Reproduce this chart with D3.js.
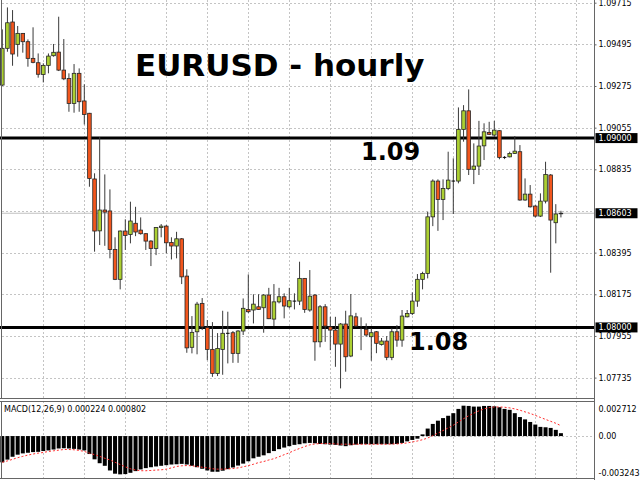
<!DOCTYPE html>
<html><head><meta charset="utf-8">
<script src="https://cdn.jsdelivr.net/npm/d3@7"></script>
<style>html,body{margin:0;padding:0;background:#fff;}svg{display:block;}</style>
</head><body><svg id="c" width="640" height="480"></svg>
<script>
// ---- data (EURUSD hourly, 110 bars) ----
const open=[
1.09280,1.09474,1.09613,1.09495,1.09553,1.09509,1.09421,1.09398,1.09336,1.09384,
1.09435,1.09454,1.09359,1.09315,1.09183,1.09342,1.09196,1.09131,1.08784,1.08510,
1.08620,1.08615,1.08412,1.08254,1.08509,1.08491,1.08550,1.08514,1.08495,1.08456,
1.08417,1.08528,1.08535,1.08449,1.08430,1.08468,1.08271,1.07895,1.07977,1.08127,
1.08000,1.07884,1.07757,1.07884,1.07969,1.07972,1.07863,1.07981,1.08095,1.08092,
1.08109,1.08104,1.08171,1.08044,1.08135,1.08162,1.08109,1.08139,1.08139,1.08259,
1.08092,1.08171,1.07924,1.08109,1.08003,1.07986,1.07912,1.08018,1.07849,1.08056,
1.08000,1.07990,1.07951,1.07977,1.07910,1.07928,1.07842,1.07977,1.07933,1.08056,
1.08074,1.08139,1.08254,1.08285,1.08584,1.08773,1.08676,1.08734,1.08773,1.08773,
1.09046,1.09144,1.08835,1.08852,1.08959,1.09030,1.09016,1.09039,1.08898,1.08901,
1.08919,1.08928,1.08673,1.08704,1.08641,1.08588,1.08667,1.08805,1.08553,1.08600];
const high=[
1.09574,1.09690,1.09676,1.09592,1.09555,1.09521,1.09585,1.09447,1.09395,1.09447,
1.09497,1.09641,1.09523,1.09342,1.09391,1.09368,1.09284,1.09133,1.08814,1.09005,
1.08808,1.08729,1.08476,1.08512,1.08571,1.08664,1.08637,1.08581,1.08498,1.08461,
1.08530,1.08546,1.08541,1.08476,1.08505,1.08472,1.08307,1.08060,1.08135,1.08155,
1.08039,1.08028,1.07970,1.08088,1.08083,1.07981,1.07986,1.08153,1.08280,1.08175,
1.08175,1.08176,1.08209,1.08229,1.08209,1.08180,1.08209,1.08180,1.08347,1.08261,
1.08303,1.08176,1.08118,1.08123,1.08056,1.08056,1.08023,1.08088,1.08176,1.08077,
1.08053,1.08021,1.07995,1.07981,1.07944,1.07954,1.07995,1.08012,1.08092,1.08092,
1.08185,1.08282,1.08294,1.08611,1.08782,1.08782,1.08782,1.08928,1.08893,1.09162,
1.09174,1.09257,1.08972,1.09091,1.09078,1.09086,1.09091,1.09042,1.08905,1.08928,
1.09011,1.08963,1.08787,1.08752,1.08646,1.08708,1.08875,1.08810,1.08651,1.08616];
const low=[
1.09275,1.09456,1.09382,1.09430,1.09451,1.09377,1.09395,1.09319,1.09294,1.09342,
1.09430,1.09354,1.09306,1.09139,1.09134,1.09139,1.09072,1.08743,1.08400,1.08435,
1.08431,1.08365,1.08250,1.08201,1.08409,1.08444,1.08482,1.08490,1.08409,1.08324,
1.08382,1.08476,1.08391,1.08359,1.08365,1.08229,1.07866,1.07863,1.07858,1.07986,
1.07827,1.07739,1.07743,1.07750,1.07810,1.07813,1.07813,1.07960,1.08076,1.08021,
1.08092,1.07972,1.08044,1.08007,1.08127,1.08048,1.08101,1.08095,1.08118,1.08077,
1.08083,1.07824,1.07895,1.07924,1.07880,1.07792,1.07678,1.07766,1.07843,1.08002,
1.07880,1.07951,1.07824,1.07864,1.07904,1.07827,1.07827,1.07898,1.07898,1.08053,
1.08065,1.08109,1.08201,1.08259,1.08535,1.08510,1.08567,1.08725,1.08599,1.08761,
1.08981,1.08805,1.08757,1.08805,1.08884,1.09016,1.09007,1.08888,1.08889,1.08898,
1.08916,1.08669,1.08669,1.08633,1.08581,1.08583,1.08655,1.08289,1.08444,1.08581];
const close=[
1.09474,1.09609,1.09444,1.09553,1.09509,1.09421,1.09400,1.09337,1.09384,1.09433,
1.09453,1.09359,1.09313,1.09183,1.09342,1.09192,1.09125,1.08787,1.08509,1.08620,
1.08609,1.08412,1.08254,1.08509,1.08486,1.08562,1.08504,1.08495,1.08456,1.08417,
1.08528,1.08535,1.08447,1.08430,1.08468,1.08267,1.07892,1.07974,1.08123,1.08003,
1.07884,1.07757,1.07889,1.07969,1.07969,1.07863,1.07981,1.08101,1.08083,1.08123,
1.08095,1.08171,1.08046,1.08135,1.08162,1.08113,1.08141,1.08139,1.08259,1.08095,
1.08165,1.07924,1.08109,1.08007,1.07986,1.07912,1.08018,1.07845,1.08061,1.08007,
1.08000,1.07960,1.07972,1.07916,1.07928,1.07842,1.07977,1.07933,1.08060,1.08074,
1.08139,1.08254,1.08285,1.08584,1.08773,1.08676,1.08734,1.08778,1.08773,1.09046,
1.09144,1.08835,1.08852,1.08958,1.09033,1.09020,1.09042,1.08898,1.08898,1.08919,
1.08931,1.08673,1.08704,1.08637,1.08588,1.08667,1.08808,1.08567,1.08599,1.08603];
const macdMain=[
-0.00203,-0.00182,-0.00160,-0.00144,-0.00134,-0.00129,-0.00124,-0.00122,-0.00116,-0.00111,
-0.00104,-0.00096,-0.00094,-0.00096,-0.00099,-0.00104,-0.00111,-0.00139,-0.00180,-0.00210,
-0.00230,-0.00266,-0.00291,-0.00296,-0.00294,-0.00284,-0.00271,-0.00258,-0.00248,-0.00241,
-0.00235,-0.00230,-0.00225,-0.00220,-0.00218,-0.00215,-0.00220,-0.00230,-0.00241,-0.00253,
-0.00266,-0.00276,-0.00276,-0.00268,-0.00256,-0.00243,-0.00228,-0.00213,-0.00195,-0.00172,
-0.00160,-0.00149,-0.00132,-0.00116,-0.00101,-0.00089,-0.00078,-0.00068,-0.00063,-0.00056,
-0.00053,-0.00056,-0.00061,-0.00063,-0.00066,-0.00068,-0.00073,-0.00078,-0.00071,-0.00066,
-0.00063,-0.00063,-0.00063,-0.00063,-0.00063,-0.00063,-0.00063,-0.00061,-0.00053,-0.00041,
-0.00030,-0.00020,0.00013,0.00058,0.00094,0.00119,0.00139,0.00157,0.00177,0.00210,
0.00235,0.00233,0.00228,0.00228,0.00233,0.00233,0.00230,0.00223,0.00210,0.00203,
0.00177,0.00147,0.00129,0.00109,0.00089,0.00071,0.00068,0.00063,0.00048,0.000224];
const macdSignal=[
-0.00203,-0.00192,-0.00180,-0.00167,-0.00157,-0.00147,-0.00139,-0.00132,-0.00127,-0.00119,
-0.00114,-0.00109,-0.00104,-0.00104,-0.00106,-0.00111,-0.00119,-0.00132,-0.00144,-0.00157,
-0.00172,-0.00185,-0.00203,-0.00220,-0.00238,-0.00253,-0.00263,-0.00268,-0.00268,-0.00266,
-0.00263,-0.00261,-0.00256,-0.00246,-0.00235,-0.00230,-0.00228,-0.00230,-0.00235,-0.00241,
-0.00246,-0.00253,-0.00256,-0.00256,-0.00253,-0.00251,-0.00246,-0.00238,-0.00228,-0.00218,
-0.00205,-0.00197,-0.00185,-0.00175,-0.00160,-0.00144,-0.00129,-0.00111,-0.00096,-0.00081,
-0.00068,-0.00061,-0.00058,-0.00058,-0.00058,-0.00061,-0.00063,-0.00063,-0.00063,-0.00063,
-0.00063,-0.00063,-0.00063,-0.00063,-0.00063,-0.00063,-0.00061,-0.00061,-0.00058,-0.00053,
-0.00046,-0.00038,-0.00028,-0.00015,0.00003,0.00023,0.00043,0.00063,0.00084,0.00109,
0.00134,0.00157,0.00177,0.00195,0.00210,0.00220,0.00225,0.00225,0.00223,0.00218,
0.00210,0.00200,0.00187,0.00175,0.00160,0.00144,0.00129,0.00114,0.00099,0.000802];
const priceTicks=[1.09715,1.09495,1.09275,1.09055,1.08835,1.08615,1.08395,1.08175,1.07955,1.07735];
const macdTicks=[0.002712,0,-0.003243];
const macdTickLabels=["0.002712","0.00","-0.003243"];
const levels=[1.09,1.08];
const levelLabels=["1.09","1.08"];
const bidPrice=1.08603;
const titleText="EURUSD - hourly";
const macdLabel="MACD(12,26,9) 0.000224 0.000802";

// ---- drawing ----
const svg=d3.select("#c");
const FONT="DejaVu Sans, Verdana, sans-serif";
const n=close.length;
const L=2, R=594.5, mainBottom=398, subTop=401, subBottom=478;
const x=d3.scaleLinear().domain([0,n-1]).range([2.3,2.3+5.125*(n-1)]);
const y=d3.scaleLinear().domain([1.09715,1.07735]).range([2.7,377.6]);
const ym=d3.scaleLinear().domain([0.002712,-0.003243]).range([subTop,subBottom]);

svg.append("rect").attr("width",640).attr("height",480).attr("fill","#fff");

// grids
const gridC="#c4c4c4";
const vIdx=d3.range(8,n+8,8).filter(i=>x(i)<R-2);
const g=svg.append("g");
g.selectAll(".hg").data(priceTicks).join("line")
 .attr("x1",L).attr("x2",R).attr("y1",d=>Math.round(y(d))+0.5).attr("y2",d=>Math.round(y(d))+0.5)
 .attr("stroke",gridC).attr("stroke-dasharray","2,2");
g.selectAll(".vg").data(vIdx).join("line")
 .attr("x1",d=>Math.round(x(d))+0.5).attr("x2",d=>Math.round(x(d))+0.5).attr("y1",0).attr("y2",mainBottom)
 .attr("stroke",gridC).attr("stroke-dasharray","2,2");
g.selectAll(".vg2").data(vIdx).join("line")
 .attr("x1",d=>Math.round(x(d))+0.5).attr("x2",d=>Math.round(x(d))+0.5).attr("y1",subTop).attr("y2",subBottom)
 .attr("stroke",gridC).attr("stroke-dasharray","2,2");
g.append("line").attr("x1",L).attr("x2",R).attr("y1",Math.round(ym(0))+0.5).attr("y2",Math.round(ym(0))+0.5)
 .attr("stroke",gridC).attr("stroke-dasharray","2,2");

// bid line
svg.append("line").attr("x1",L).attr("x2",R).attr("y1",y(bidPrice)).attr("y2",y(bidPrice))
 .attr("stroke","#c0c0c0").attr("stroke-width",1);

// level lines
svg.selectAll(".lvl").data(levels).join("line")
 .attr("x1",0).attr("x2",R).attr("y1",d=>y(d)).attr("y2",d=>y(d))
 .attr("stroke","#000").attr("stroke-width",3);

// candles
const idx=d3.range(n);
const bw=3.6;
const cg=svg.append("g");
cg.selectAll(".wick").data(idx).join("line")
 .attr("x1",i=>x(i)).attr("x2",i=>x(i)).attr("y1",i=>y(high[i])).attr("y2",i=>y(low[i]))
 .attr("stroke","#3a3a3a").attr("stroke-width",1);
cg.selectAll(".body").data(idx.filter(i=>Math.abs(open[i]-close[i])>0.000015)).join("rect")
 .attr("x",i=>x(i)-bw/2).attr("width",bw)
 .attr("y",i=>y(Math.max(open[i],close[i])))
 .attr("height",i=>Math.abs(y(open[i])-y(close[i])))
 .attr("fill",i=>close[i]>open[i]?"#acd032":"#f2561d")
 .attr("stroke","#262626").attr("stroke-width",0.8);
cg.selectAll(".doji").data(idx.filter(i=>Math.abs(open[i]-close[i])<=0.000015)).join("line")
 .attr("x1",i=>x(i)-bw/2).attr("x2",i=>x(i)+bw/2).attr("y1",i=>y(close[i])).attr("y2",i=>y(close[i]))
 .attr("stroke","#000").attr("stroke-width",1);

// MACD histogram + signal
svg.selectAll(".hist").data(idx).join("rect")
 .attr("x",i=>x(i)-2).attr("width",4)
 .attr("y",i=>ym(Math.max(0,macdMain[i])))
 .attr("height",i=>Math.abs(ym(macdMain[i])-ym(0)))
 .attr("fill","#000");
svg.append("path").datum(idx)
 .attr("d",d3.line().x(i=>x(i)).y(i=>ym(macdSignal[i])))
 .attr("fill","none").attr("stroke","#ff2a2a").attr("stroke-width",1).attr("stroke-dasharray","2,2");

// frames
svg.append("line").attr("x1",1.5).attr("x2",1.5).attr("y1",0).attr("y2",mainBottom).attr("stroke","#666");
svg.append("line").attr("x1",1.5).attr("x2",1.5).attr("y1",subTop).attr("y2",subBottom).attr("stroke","#666");
svg.append("line").attr("x1",0).attr("x2",R).attr("y1",mainBottom+0.5).attr("y2",mainBottom+0.5).attr("stroke","#666");
svg.append("line").attr("x1",0).attr("x2",R).attr("y1",subTop+0.5).attr("y2",subTop+0.5).attr("stroke","#666");
svg.append("line").attr("x1",0).attr("x2",R).attr("y1",subBottom+0.5).attr("y2",subBottom+0.5).attr("stroke","#666");

// right price axis (the label under the bid box is hidden, as in the terminal)
const labelTicks=priceTicks.filter(v=>Math.abs(y(v)-y(bidPrice))>6);
const ax=svg.append("g").attr("transform",`translate(${R},0)`)
 .call(d3.axisRight(y).tickValues(labelTicks).tickFormat(d3.format(".5f")).tickSize(2).tickPadding(2));
ax.select(".domain").remove();
ax.selectAll("text").attr("font-family",FONT).attr("font-size",8).attr("fill","#000");
ax.selectAll("line").attr("stroke","#666");
svg.append("line").attr("x1",R).attr("x2",R).attr("y1",0).attr("y2",480).attr("stroke","#666");

// MACD axis labels
svg.selectAll(".mtl").data(macdTicks).join("text")
 .attr("x",R+4).attr("y",d=>Math.min(473,Math.max(409,ym(d))))
 .attr("dominant-baseline","central")
 .attr("font-family",FONT).attr("font-size",8).attr("fill","#000")
 .text((d,i)=>macdTickLabels[i]);

// highlighted price boxes
const boxes=[...levels.map(v=>({v,t:d3.format(".5f")(v)})),{v:bidPrice,t:d3.format(".5f")(bidPrice)}];
const bg=svg.selectAll(".box").data(boxes).join("g");
bg.append("rect").attr("x",R+1).attr("width",42).attr("y",d=>y(d.v)-5).attr("height",10).attr("fill","#000");
bg.append("text").attr("x",R+4).attr("y",d=>y(d.v)).attr("dominant-baseline","central")
 .attr("font-family",FONT).attr("font-size",8).attr("fill","#fff").text(d=>d.t);

// texts
svg.append("text").attr("x",135).attr("y",75.5).attr("font-family",FONT).attr("font-weight","bold")
 .attr("font-size",31).attr("fill","#000").text(titleText);
svg.selectAll(".lvlt").data(levels).join("text")
 .attr("x",(d,i)=>i===0?361:409).attr("y",(d,i)=>i===0?160:349.5)
 .attr("font-family",FONT).attr("font-weight","bold").attr("font-size",24).attr("fill","#000")
 .text((d,i)=>levelLabels[i]);
svg.append("text").attr("x",4).attr("y",412).attr("font-family",FONT).attr("font-size",8).attr("fill","#000").text(macdLabel);
</script></body></html>
